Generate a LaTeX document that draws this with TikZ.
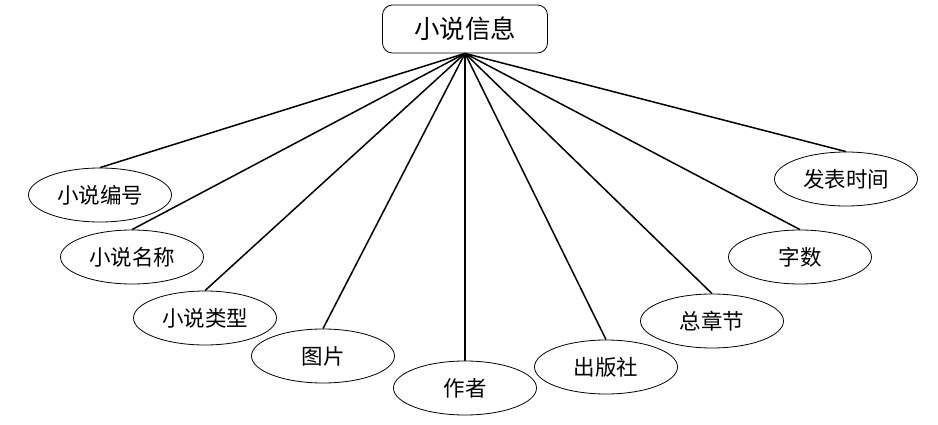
\documentclass[tikz,border=0pt]{standalone}
\usepackage{fontspec}
\setmainfont{Noto Sans CJK SC}
\usetikzlibrary{shapes.geometric}
\begin{document}
\begin{tikzpicture}[x=1pt,y=-1pt,
    attr/.style={draw,ellipse,line width=0.8pt,minimum width=143pt,minimum height=54pt,inner sep=0pt,font=\fontsize{21.5}{21.5}\selectfont},
    entity/.style={draw,line width=0.8pt,rounded corners=10pt,minimum width=165pt,minimum height=48pt,font=\fontsize{25.5}{25.5}\selectfont}]
        \useasboundingbox (0,0) rectangle (938,425);
        \node[entity] (info) at (465,29) {小说信息};
        \node[attr] (id) at (100,195) {小说编号};
        \node[attr] (name) at (132,257) {小说名称};
        \node[attr] (type) at (205,318) {小说类型};
        \node[attr] (pic) at (323,356) {图片};
        \node[attr] (author) at (465,388) {作者};
        \node[attr] (press) at (606,367) {出版社};
        \node[attr] (chapter) at (712,321) {总章节};
        \node[attr] (words) at (800,257) {字数};
        \node[attr] (date) at (846,179) {发表时间};
        \foreach \n in {id,name,type,pic,author,press,chapter,words,date}
            \draw[line width=1.5pt] (info.south) -- (\n.north);
    \end{tikzpicture}
\end{document}
